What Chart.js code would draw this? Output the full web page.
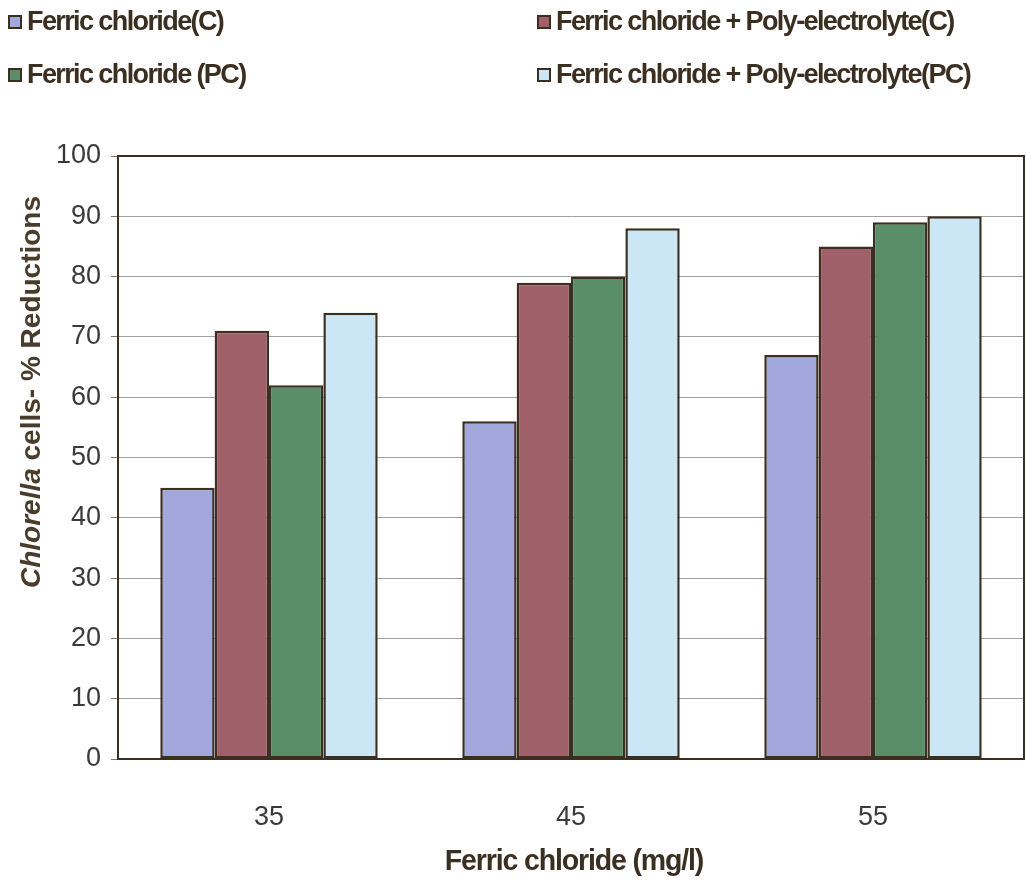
<!DOCTYPE html>
<html>
<head>
<meta charset="utf-8">
<script src="https://cdn.jsdelivr.net/npm/chart.js@4"></script>
<style>
  html, body { margin: 0; padding: 0; background: #ffffff; }
  #wrap { position: relative; width: 1026px; height: 889px; }
  #chart { position: absolute; left: 0; top: 0; }
  #legend { position: absolute; left: 0; top: 0; width: 1026px; height: 110px; }
  .item { position: absolute; display: flex; align-items: center; white-space: nowrap;
          font-family: "Liberation Sans", Arial, sans-serif; font-weight: bold; font-size: 27px;
          color: #3b2f22; letter-spacing: -1.6px; }
  .box { width: 10px; height: 10px; border: 2px solid #3b2f22; margin-right: 5px; flex: none; }
</style>
</head>
<body>
<div id="wrap">
  <canvas id="chart" width="1026" height="889"></canvas>
  <div id="legend"></div>
</div>
<script>
// Doses of ferric chloride (mg/l) on the x axis
const doses = ['35', '45', '55'];

// Percent reduction of Chlorella cells for each treatment
const fcC      = [45, 56, 67];
const fcPolyC  = [71, 79, 85];
const fcPC     = [62, 80, 89];
const fcPolyPC = [74, 88, 90];

const seriesNames = [
  'Ferric chloride(C)',
  'Ferric chloride + Poly-electrolyte(C)',
  'Ferric chloride (PC)',
  'Ferric chloride + Poly-electrolyte(PC)'
];
const seriesColors = ['#a3a8dc', '#a0606a', '#5a8e68', '#cbe6f5'];

const yTicks = [0, 10, 20, 30, 40, 50, 60, 70, 80, 90, 100];

const edge = '#3b2f22';
const seriesValues = [fcC, fcPolyC, fcPC, fcPolyPC];

// Legend laid out in two columns, items ordered row by row
const legendSlots = [
  { left: 8,   top: 22 },
  { left: 537, top: 22 },
  { left: 8,   top: 75 },
  { left: 537, top: 75 }
];
const legendEl = document.getElementById('legend');
seriesNames.forEach((name, i) => {
  const item = document.createElement('div');
  item.className = 'item';
  item.style.left = legendSlots[i].left + 'px';
  item.style.top = (legendSlots[i].top - 16) + 'px';
  const box = document.createElement('span');
  box.className = 'box';
  box.style.background = seriesColors[i];
  const txt = document.createElement('span');
  txt.textContent = name;
  item.appendChild(box);
  item.appendChild(txt);
  legendEl.appendChild(item);
});

// Frame on top and right of the plotting area, plus custom axis titles
const framePlugin = {
  id: 'frame',
  afterDraw(chart) {
    const { ctx, chartArea: a } = chart;
    ctx.save();
    ctx.strokeStyle = edge;
    ctx.lineWidth = 2;
    ctx.beginPath();
    ctx.moveTo(a.left, a.top);
    ctx.lineTo(a.right, a.top);
    ctx.lineTo(a.right, a.bottom);
    ctx.stroke();

    // y-axis title: italic genus name followed by regular bold text
    ctx.fillStyle = '#4a3c2a';
    const size = 28;
    const italicFont = 'italic bold ' + size + 'px "Liberation Sans", Arial, sans-serif';
    const boldFont = 'bold ' + size + 'px "Liberation Sans", Arial, sans-serif';
    const partA = 'Chlorella';
    const partB = ' cells- % Reductions';
    ctx.font = italicFont;
    const wA = ctx.measureText(partA).width;
    ctx.font = boldFont;
    const wB = ctx.measureText(partB).width;
    const total = wA + wB;
    const cy = a.top + 236;
    ctx.translate(32, cy);
    ctx.rotate(-Math.PI / 2);
    ctx.textBaseline = 'middle';
    ctx.textAlign = 'left';
    ctx.font = italicFont;
    ctx.fillText(partA, -total / 2, 0);
    ctx.font = boldFont;
    ctx.fillText(partB, -total / 2 + wA, 0);
    ctx.restore();

    // x-axis title, set in a condensed bold face
    ctx.save();
    ctx.fillStyle = edge;
    ctx.font = 'bold 30px "Liberation Sans", Arial, sans-serif';
    ctx.textBaseline = 'middle';
    ctx.textAlign = 'center';
    ctx.translate((a.left + a.right) / 2 + 3, 862);
    ctx.scale(0.95, 1);
    ctx.letterSpacing = '-1.2px';
    ctx.fillText('Ferric chloride (mg/l)', 0, 0);
    ctx.restore();
  }
};

new Chart(document.getElementById('chart'), {
  type: 'bar',
  data: {
    labels: doses,
    datasets: seriesNames.map((name, i) => ({
      label: name,
      data: seriesValues[i],
      backgroundColor: seriesColors[i],
      borderColor: edge,
      borderWidth: 2.5,
      borderSkipped: false,
      categoryPercentage: 0.72,
      barPercentage: 1.0
    }))
  },
  options: {
    responsive: false,
    animation: false,
    layout: { padding: { top: 156, right: 2, left: 0, bottom: 0 } },
    plugins: {
      legend: { display: false },
      tooltip: { enabled: false }
    },
    scales: {
      x: {
        grid: { display: false },
        border: { display: true, color: edge, width: 2 },
        ticks: {
          color: '#3a3a3a',
          padding: 34,
          font: { family: '"Liberation Sans", Arial, sans-serif', size: 27 }
        },
        afterFit(scale) { scale.height = 130; }
      },
      y: {
        min: 0,
        max: 100,
        afterBuildTicks(scale) { scale.ticks = yTicks.map(v => ({ value: v })); },
        grid: { color: '#a0a0a0', lineWidth: 1, tickLength: 7, tickColor: '#777' },
        border: { display: true, color: edge, width: 2 },
        ticks: {
          color: '#3a3a3a',
          padding: 10,
          font: { family: '"Liberation Sans", Arial, sans-serif', size: 27 }
        },
        afterFit(scale) { scale.width = 118; }
      }
    }
  },
  plugins: [framePlugin]
});
</script>
</body>
</html>
